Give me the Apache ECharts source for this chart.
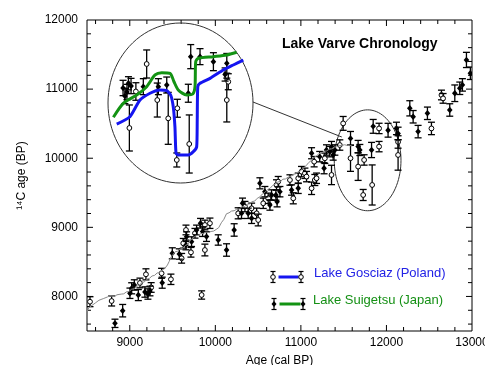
<!DOCTYPE html>
<html><head><meta charset="utf-8">
<script src="https://cdn.jsdelivr.net/npm/echarts@6/dist/echarts.min.js"></script>
<style>html,body{margin:0;padding:0;background:#fff}#c{width:485px;height:365px}</style>
</head><body><div id="c"></div>
<script>
// ---- data ----
const xTickLabels = [9000, 10000, 11000, 12000, 13000];
const yTickLabels = [8000, 9000, 10000, 11000, 12000];
const xTicks = [8600,8800,9000,9200,9400,9600,9800,10000,10200,10400,10600,10800,11000,11200,11400,11600,11800,12000,12200,12400,12600,12800];
const yTicks = [7600,7800,8000,8200,8400,8600,8800,9000,9200,9400,9600,9800,10000,10200,10400,10600,10800,11000,11200,11400,11600,11800];

// calibration curve (gray)
const grayCurve = [
[8500,7780],[8520,7835],[8540,7812],[8560,7872],[8580,7855],[8600,7908],[8620,7886],[8640,7945],[8660,7922],[8690,7968],[8710,7948],[8740,7993],[8770,8008],[8790,7982],[8820,7998],[8850,8024],[8870,8002],[8900,8034],[8930,8038],[8960,8066],[8990,8072],[9020,8104],[9050,8112],[9080,8146],[9110,8158],[9140,8200],[9170,8210],[9200,8250],[9230,8262],[9260,8296],[9290,8305],[9320,8340],[9350,8345],[9380,8386],[9410,8405],[9440,8455],[9460,8505],[9480,8566],[9500,8596],[9530,8646],[9560,8655],[9590,8688],[9620,8696],[9650,8738],[9680,8756],[9710,8816],[9740,8846],[9770,8876],[9800,8885],[9830,8910],[9860,8912],[9890,8930],[9920,8926],[9950,8940],[9980,8946],[10010,8970],[10040,8996],[10070,9066],[10100,9116],[10130,9196],[10160,9210],[10190,9236],[10220,9240],[10250,9262],[10280,9266],[10310,9296],[10340,9300],[10370,9332],[10400,9340],[10430,9372],[10460,9380],[10490,9420],[10520,9440],[10550,9482],[10580,9505],[10610,9546],[10640,9565],[10670,9606],[10700,9625],[10730,9656],[10760,9665],[10790,9696],[10820,9700],[10850,9726],[10880,9735],[10910,9766],[10940,9775],[10970,9806],[11000,9820],[11030,9860],[11060,9890],[11090,9936],[11120,9965],[11150,10010],[11180,10030],[11210,10066],[11240,10075],[11270,10100],[11300,10105],[11330,10130],[11360,10136],[11390,10160],[11420,10166],[11450,10184],[11480,10185],[11510,10195],[11540,10186],[11570,10184],[11600,10176]
];

// Lake Gosciaz (open symbols): [cal age, 14C age, error]
const gosciaz = [
[8535,7924,72],[8788,7934,72],[9119,8195,70],[9189,8320,80],[9250,8130,70],[9372,8335,72],[9481,8248,75],
[9606,8552,70],[9625,8769,70],[9657,8962,70],[9715,8639,70],[9762,8914,70],[9840,8021,60],[9878,9034,70],
[9878,8672,85],[9937,9059,75],[10267,9203,80],[10346,9300,75],[10424,9275,75],[10483,9203,75],[10501,9106,85],
[10560,9348,75],[10618,9420,75],[10715,9613,75],[10735,9661,75],[10872,9685,75],[10911,9420,80],[10969,9710,75],
[11007,9806,75],[11047,9782,75],[11066,9734,75],[11125,9565,90],[11155,9950,75],[11163,9685,80],[11183,9710,75],
[11280,9999,75],[11358,9758,140],[11455,10191,75],[11494,10504,100],[11580,10000,190],[11669,9879,200],
[11739,9975,75],[11728,9468,80],[11833,9613,290],[11914,10168,75],[11914,10431,75],[12136,10235,90],
[12136,10047,220],[12526,10431,90],[12643,10915,70],[12662,10866,70]
];
// Lake Suigetsu (filled symbols)
const suigetsu = [
[8827,7611,60],[8917,7794,90],[9002,8046,75],[9022,8118,80],[9053,8166,75],[9100,8020,80],[9177,8064,75],
[9212,8035,75],[9236,8079,70],[9379,8199,80],[9497,8624,80],[9579,8614,75],[9657,8745,70],[9664,8865,70],
[9722,8793,70],[9781,8962,70],[9827,9059,70],[9851,8938,70],[9897,8866,70],[10034,8817,75],[10131,8672,90],
[10220,8962,90],[10306,9203,75],[10318,9348,75],[10384,9203,75],[10424,9131,75],[10521,9637,80],[10579,9516,75],
[10638,9323,75],[10657,9468,75],[10708,9468,75],[10722,9371,75],[10755,9516,75],[10891,9540,75],[10969,9565,75],
[11125,10072,80],[11220,10023,75],[11271,9855,80],[11299,10119,75],[11338,10095,75],[11358,10168,75],
[11377,10047,75],[11397,10119,75],[11580,10287,100],[11669,10168,90],[11689,10119,80],[11826,10119,110],
[11845,10461,100],[12019,10405,100],[12117,10431,90],[12136,10359,90],[12273,10722,110],[12312,10600,90],
[12370,10385,90],[12479,10650,90],[12740,10698,90],[12799,10940,120],[12857,11012,90],[12888,11061,90],
[12935,11422,110],[12981,11229,90]
];

// magnified inset (same units)
const insetGosciazCurve = [
[11437,9778],[11508,9845],[11562,9997],[11616,10059],[11670,10089],[11706,10082],[11727,10043],[11741,9936],
[11750,9754],[11756,9511],[11768,9496],[11822,9496],[11849,9526],[11867,9571],[11870,9815],[11873,10119],
[11885,10150],[11939,10195],[12010,10271],[12064,10317],[12118,10362]
];
const insetSuigetsuCurve = [
[11419,9840],[11472,9967],[11544,10043],[11598,10119],[11643,10226],[11679,10247],[11724,10241],[11745,10164],
[11768,10089],[11813,10043],[11846,10052],[11858,10119],[11862,10347],[11876,10378],[11957,10393],[12029,10408],[12082,10433]
];
const insetGosciaz = [
[11505,9742,210],[11598,10326,128],[11655,9997,155],[11714,9830,237],[11763,9922,82],[11760,9450,64],
[11827,9596,265],[12029,9997,200],[12037,10164,73],[11540,10075,80]
];
const insetSuigetsu = [
[11471,10107,70],[11492,10070,70],[11514,10125,70],[11481,10034,70],[11500,10150,60],[11580,10119,73],
[11661,10119,73],[11706,10134,73],[11822,10059,82],[11835,10393,110],[11885,10393,73],[11957,10347,82],
[12029,10332,90],[12020,10230,60]
];

// zoom ellipse [centre cal, centre 14C, radius cal, radius 14C] and connector
const zoomEllipse = [[11780, 9970, 390, 730]];
const connector = [[10439,10814],[11478,10307]];

// ---- chart ----
const chart = echarts.init(document.getElementById('c'), null, {renderer:'canvas'});
const FONT = '"Liberation Sans", Arial, sans-serif';

function errRender(open){
  return function(params, api){
    const x = api.value(0), y = api.value(1), e = api.value(2);
    const c = api.coord([x,y]), t = api.coord([x,y+e]), b = api.coord([x,y-e]);
    const w = 3.5, st = {stroke:'#000', lineWidth:1.3};
    const ch = [
      {type:'line', shape:{x1:c[0],y1:t[1],x2:c[0],y2:b[1]}, style:st},
      {type:'line', shape:{x1:c[0]-w,y1:t[1],x2:c[0]+w,y2:t[1]}, style:st},
      {type:'line', shape:{x1:c[0]-w,y1:b[1],x2:c[0]+w,y2:b[1]}, style:st}
    ];
    if (open) ch.push({type:'circle', shape:{cx:c[0],cy:c[1],r:2.4}, style:{fill:'#fff',stroke:'#000',lineWidth:1}});
    else ch.push({type:'polygon', shape:{points:[[c[0],c[1]-3.2],[c[0]+2.8,c[1]],[c[0],c[1]+3.2],[c[0]-2.8,c[1]]]}, style:{fill:'#000'}});
    return {type:'group', children:ch};
  };
}
function ellipseRender(params, api){
  const c = api.coord([api.value(0), api.value(1)]);
  const s = api.size([api.value(2), api.value(3)]);
  const pts = [];
  for (let i=0;i<96;i++){ const a = i/96*Math.PI*2; pts.push([c[0]+s[0]*Math.cos(a), c[1]+s[1]*Math.sin(a)]); }
  return {type:'polygon', shape:{points:pts}, style:{fill:'none', stroke:'#333', lineWidth:1}};
}
function xTickRender(params, api){
  const v = api.value(0);
  const b = api.coord([v, 7500]), t = api.coord([v, 12000]);
  const L = (v % 1000 === 0) ? 6 : 4;
  const st = {stroke:'#000', lineWidth:1};
  return {type:'group', children:[
    {type:'line', shape:{x1:b[0],y1:b[1],x2:b[0],y2:b[1]-L}, style:st},
    {type:'line', shape:{x1:t[0],y1:t[1],x2:t[0],y2:t[1]+L}, style:st}
  ]};
}
function yTickRender(params, api){
  const v = api.value(1);
  const l = api.coord([8500, v]), r = api.coord([13000, v]);
  const L = (v % 1000 === 0) ? 6 : 4;
  const st = {stroke:'#000', lineWidth:1};
  return {type:'group', children:[
    {type:'line', shape:{x1:l[0],y1:l[1],x2:l[0]+L,y2:l[1]}, style:st},
    {type:'line', shape:{x1:r[0],y1:r[1],x2:r[0]-L,y2:r[1]}, style:st}
  ]};
}

const option = {
  backgroundColor:'#fff',
  animation:false,
  textStyle:{fontFamily:FONT},
  grid:[
    {left:87, right:13, top:20, bottom:34, show:true, borderColor:'#000', borderWidth:1, backgroundColor:'transparent', containLabel:false, outerBoundsMode:'none'},
    {left:108, top:23, width:145, height:160, show:false, containLabel:false, outerBoundsMode:'none'}
  ],
  xAxis:[
    {type:'value', gridIndex:0, min:8500, max:13000, interval:500,
     axisLine:{show:false}, axisTick:{show:false}, splitLine:{show:false},
     axisLabel:{margin:6, color:'#000', fontSize:12, fontFamily:FONT, hideOverlap:false,
       formatter:v => xTickLabels.indexOf(v) >= 0 ? String(v) : ''},
     name:'Age (cal BP)', nameLocation:'middle', nameGap:24,
     nameTextStyle:{color:'#000', fontSize:12, fontFamily:FONT}},
    {type:'value', gridIndex:1, min:11390, max:12170, show:false}
  ],
  yAxis:[
    {type:'value', gridIndex:0, min:7500, max:12000, interval:500,
     axisLine:{show:false}, axisTick:{show:false}, splitLine:{show:false},
     axisLabel:{margin:9, color:'#000', fontSize:12, fontFamily:FONT,
       formatter:v => yTickLabels.indexOf(v) >= 0 ? String(v) : ''},
     name:'\u00B9\u2074C age (BP)', nameLocation:'middle', nameGap:59, nameRotate:90,
     nameTextStyle:{color:'#000', fontSize:12, fontFamily:FONT}},
    {type:'value', gridIndex:1, min:9240, max:10700, show:false}
  ],
  series:[
    {type:'custom', xAxisIndex:0, yAxisIndex:0, renderItem:xTickRender, data:xTicks.map(v=>[v,7500]), silent:true, clip:false},
    {type:'custom', xAxisIndex:0, yAxisIndex:0, renderItem:yTickRender, data:yTicks.map(v=>[8500,v]), silent:true, clip:false},
    {type:'line', xAxisIndex:0, yAxisIndex:0, data:grayCurve, showSymbol:false, lineStyle:{color:'#8a8a8a', width:1}, silent:true},
    {type:'line', xAxisIndex:0, yAxisIndex:0, data:connector, showSymbol:false, lineStyle:{color:'#333', width:1}, silent:true, clip:false},
    {type:'custom', xAxisIndex:0, yAxisIndex:0, renderItem:ellipseRender, data:zoomEllipse, clip:false, silent:true},
    {type:'custom', xAxisIndex:0, yAxisIndex:0, renderItem:errRender(true), data:gosciaz, clip:true, silent:true},
    {type:'custom', xAxisIndex:0, yAxisIndex:0, renderItem:errRender(false), data:suigetsu, clip:true, silent:true},
    // inset
    {type:'custom', xAxisIndex:1, yAxisIndex:1, renderItem:ellipseRender, data:zoomEllipse, clip:false, silent:true},
    {type:'custom', xAxisIndex:1, yAxisIndex:1, renderItem:errRender(true), data:insetGosciaz, clip:false, silent:true},
    {type:'custom', xAxisIndex:1, yAxisIndex:1, renderItem:errRender(false), data:insetSuigetsu, clip:false, silent:true},
    {type:'line', xAxisIndex:1, yAxisIndex:1, data:insetSuigetsuCurve, showSymbol:false, smooth:0.25, lineStyle:{color:'#139313', width:3}, silent:true},
    {type:'line', xAxisIndex:1, yAxisIndex:1, data:insetGosciazCurve, showSymbol:false, smooth:0.2, lineStyle:{color:'#1515f0', width:3}, silent:true}
  ],
  graphic:[
    {type:'text', left:282, top:37, style:{text:'Lake Varve Chronology', fill:'#000', font:'bold 14px "Liberation Sans", Arial, sans-serif'}},
    // legend row 1
    {type:'group', left:268, top:269, children:[
      {type:'line', shape:{x1:3.5,y1:0,x2:3.5,y2:11}, style:{stroke:'#000',lineWidth:1.2}},
      {type:'line', shape:{x1:1,y1:0,x2:6,y2:0}, style:{stroke:'#000',lineWidth:1.2}},
      {type:'line', shape:{x1:1,y1:11,x2:6,y2:11}, style:{stroke:'#000',lineWidth:1.2}},
      {type:'circle', shape:{cx:3.5,cy:5.5,r:2.3}, style:{fill:'#fff',stroke:'#000',lineWidth:1}},
      {type:'line', shape:{x1:9,y1:5.5,x2:29,y2:5.5}, style:{stroke:'#1515f0',lineWidth:3}},
      {type:'line', shape:{x1:31.5,y1:0,x2:31.5,y2:11}, style:{stroke:'#000',lineWidth:1.2}},
      {type:'line', shape:{x1:29,y1:0,x2:34,y2:0}, style:{stroke:'#000',lineWidth:1.2}},
      {type:'line', shape:{x1:29,y1:11,x2:34,y2:11}, style:{stroke:'#000',lineWidth:1.2}},
      {type:'circle', shape:{cx:31.5,cy:5.5,r:2.3}, style:{fill:'#fff',stroke:'#000',lineWidth:1}}
    ]},
    {type:'text', left:314, top:267, style:{text:'Lake Gosciaz (Poland)', fill:'#2222e6', font:'13px "Liberation Sans", Arial, sans-serif'}},
    // legend row 2
    {type:'group', left:269, top:296, children:[
      {type:'line', shape:{x1:3.5,y1:0,x2:3.5,y2:11}, style:{stroke:'#000',lineWidth:1.2}},
      {type:'line', shape:{x1:1,y1:0,x2:6,y2:0}, style:{stroke:'#000',lineWidth:1.2}},
      {type:'line', shape:{x1:1,y1:11,x2:6,y2:11}, style:{stroke:'#000',lineWidth:1.2}},
      {type:'polygon', shape:{points:[[3.5,2.5],[6,5.5],[3.5,8.5],[1,5.5]]}, style:{fill:'#000'}},
      {type:'line', shape:{x1:9,y1:5.5,x2:30,y2:5.5}, style:{stroke:'#139313',lineWidth:3}},
      {type:'line', shape:{x1:32.5,y1:0,x2:32.5,y2:11}, style:{stroke:'#000',lineWidth:1.2}},
      {type:'line', shape:{x1:30,y1:0,x2:35,y2:0}, style:{stroke:'#000',lineWidth:1.2}},
      {type:'line', shape:{x1:30,y1:11,x2:35,y2:11}, style:{stroke:'#000',lineWidth:1.2}},
      {type:'polygon', shape:{points:[[32.5,2.5],[35,5.5],[32.5,8.5],[30,5.5]]}, style:{fill:'#000'}}
    ]},
    {type:'text', left:313, top:294, style:{text:'Lake Suigetsu (Japan)', fill:'#159015', font:'13px "Liberation Sans", Arial, sans-serif'}}
  ]
};
chart.setOption(option);
</script>
</body></html>
